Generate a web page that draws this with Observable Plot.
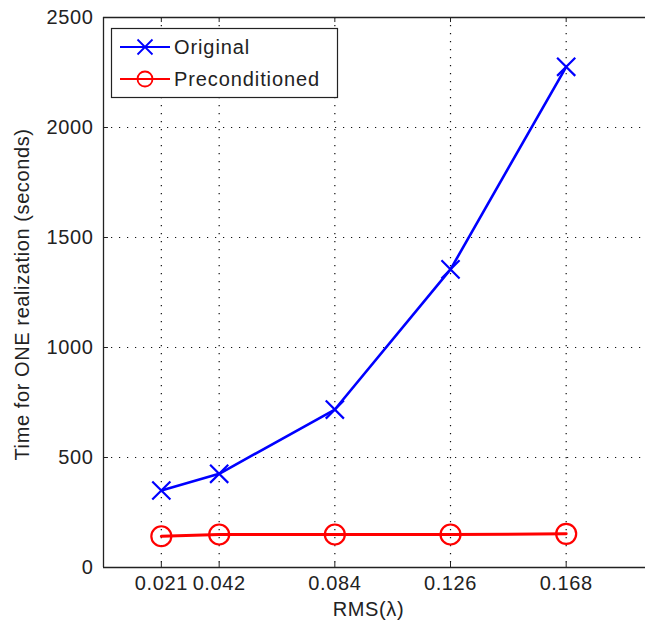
<!DOCTYPE html>
<html>
<head>
<meta charset="utf-8">
<script src="https://cdn.jsdelivr.net/npm/d3@7"></script>
<script src="https://cdn.jsdelivr.net/npm/@observablehq/plot@0.6"></script>
<style>
  html, body { margin: 0; padding: 0; background: white; overflow: hidden; }
  #chart { width: 645px; height: 632px; overflow: hidden; }
</style>
</head>
<body>
<div id="chart"></div>
<script>
const rms = [0.021, 0.042, 0.084, 0.126, 0.168];
const original = [350, 426, 718, 1355, 2276];
const preconditioned = [142, 150, 150, 150, 153];
const xTicks = [0.021, 0.042, 0.084, 0.126, 0.168];
const yTicks = [0, 500, 1000, 1500, 2000, 2500];
const seriesNames = ["Original", "Preconditioned"];
const seriesColors = ["#0000ff", "#ff0000"];
const xLabel = "RMS(λ)";
const yLabel = "Time for ONE realization (seconds)";

const origData = rms.map((x, i) => ({x, y: original[i]}));
const preData = rms.map((x, i) => ({x, y: preconditioned[i]}));

const font = "'Liberation Sans', Arial, Helvetica, sans-serif";
const axisColor = "#222";

const chart = Plot.plot({
  width: 645,
  height: 632,
  marginLeft: 103,
  marginRight: 0,
  marginTop: 17,
  marginBottom: 65,
  style: {fontFamily: font, fontSize: "20px", color: axisColor, background: "white"},
  x: {domain: [0, 0.1968], ticks: xTicks},
  y: {domain: [0, 2500], ticks: yTicks},
  marks: [
    Plot.gridX(xTicks, {stroke: "#111", strokeOpacity: 1, strokeWidth: 1.2, strokeDasharray: "1.2,6.8"}),
    Plot.gridY(yTicks.slice(1, -1), {stroke: "#111", strokeOpacity: 1, strokeWidth: 1.2, strokeDasharray: "1.2,6.8"}),
    // inward ticks
    Plot.ruleX(xTicks, {x: d => d, y1: 0, y2: 23, stroke: axisColor}),
    Plot.ruleX(xTicks, {x: d => d, y1: 2500, y2: 2477, stroke: axisColor}),
    Plot.ruleY(yTicks, {y: d => d, x1: 0, x2: 0.0018, stroke: axisColor}),
    // axes box
    Plot.ruleY([0], {stroke: axisColor, strokeWidth: 1.3}),
    Plot.ruleY([2500], {stroke: axisColor, strokeWidth: 1.6}),
    Plot.ruleX([0], {stroke: axisColor, strokeWidth: 1.3}),
    Plot.axisX(xTicks, {tickSize: 0, tickPadding: 8, tickFormat: d => String(d), label: null, fill: axisColor}),
    Plot.axisY(yTicks, {tickSize: 0, tickPadding: 10, tickFormat: d => String(d), label: null, fill: axisColor}),
    // series
    Plot.line(origData, {x: "x", y: "y", stroke: seriesColors[0], strokeWidth: 2.6}),
    Plot.dot(origData, {x: "x", y: "y", symbol: "times", r: 8.3, stroke: seriesColors[0], strokeWidth: 2.2}),
    Plot.line(preData, {x: "x", y: "y", stroke: seriesColors[1], strokeWidth: 3}),
    Plot.dot(preData, {x: "x", y: "y", symbol: "circle", r: 10, stroke: seriesColors[1], strokeWidth: 2.2, fill: "none"}),
    // axis labels
    Plot.text([xLabel], {frameAnchor: "bottom", text: d => d, dy: 42, dx: -6, lineAnchor: "middle", textAnchor: "middle", fontSize: 20, fill: axisColor}),
    Plot.text([yLabel], {frameAnchor: "left", text: d => d, rotate: -90, dx: -81, dy: 2, lineAnchor: "middle", textAnchor: "middle", fontSize: 20, fill: axisColor})
  ]
});

document.getElementById("chart").appendChild(chart);

const svg = d3.select(chart);
svg.selectAll("text").style("letter-spacing", "0.6px");

// Legend
const lg = svg.append("g").attr("font-family", font).attr("font-size", 20).attr("text-anchor", "start");
lg.append("rect")
  .attr("x", 111.5).attr("y", 28.5).attr("width", 226).attr("height", 69)
  .attr("fill", "white").attr("stroke", axisColor).attr("stroke-width", 1.2);
const rowY = [47, 79];
seriesNames.forEach((name, i) => {
  const y = rowY[i];
  const c = seriesColors[i];
  lg.append("line").attr("x1", 120).attr("x2", 170).attr("y1", y).attr("y2", y)
    .attr("stroke", c).attr("stroke-width", 1.8);
  if (i === 0) {
    const s = 7.5;
    lg.append("path").attr("d", `M${145 - s},${y - s}L${145 + s},${y + s}M${145 - s},${y + s}L${145 + s},${y - s}`)
      .attr("stroke", c).attr("stroke-width", 1.8).attr("fill", "none");
  } else {
    lg.append("circle").attr("cx", 145).attr("cy", y).attr("r", 7.5)
      .attr("stroke", c).attr("stroke-width", 1.8).attr("fill", "none");
  }
  lg.append("text").attr("x", 174).attr("y", y).attr("dy", "0.35em")
    .attr("text-anchor", "start")
    .attr("fill", axisColor).style("letter-spacing", "0.9px").text(name);
});
</script>
</body>
</html>
